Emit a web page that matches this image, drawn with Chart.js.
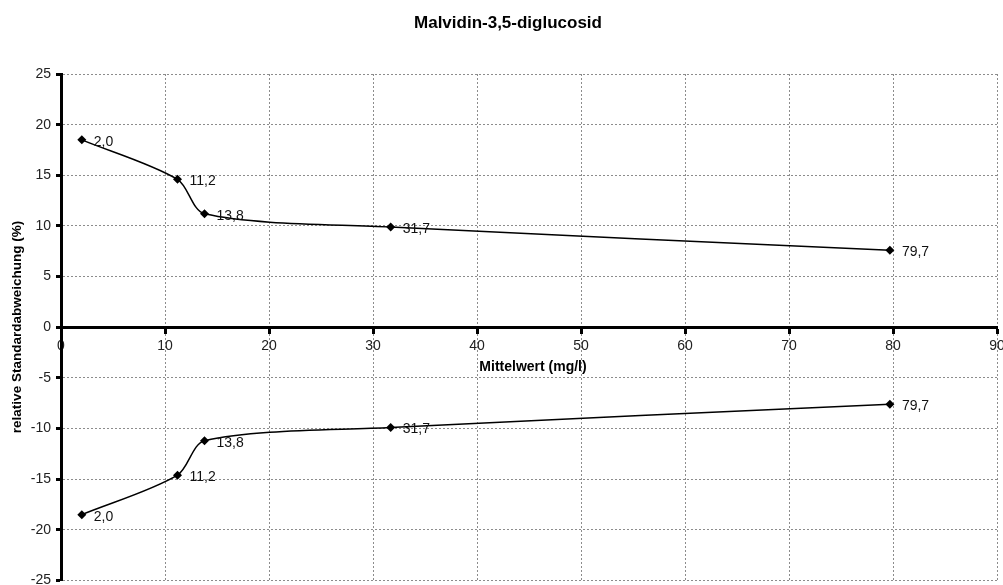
<!DOCTYPE html>
<html>
<head>
<meta charset="utf-8">
<script src="https://cdn.jsdelivr.net/npm/chart.js@4/dist/chart.umd.min.js"></script>
<style>
html,body{margin:0;padding:0;background:#fff;}
#wrap{width:1003px;height:585px;position:relative;}
</style>
</head>
<body>
<div id="wrap"><canvas id="c"></canvas></div>
<script>
const chartTitle = 'Malvidin-3,5-diglucosid';
const xAxisTitle = 'Mittelwert (mg/l)';
const yAxisTitle = 'relative Standardabweichung (%)';
const meanValues = [2.0, 11.2, 13.8, 31.7, 79.7];
const rsdUpper = [18.5, 14.6, 11.2, 9.9, 7.6];
const rsdLower = [-18.5, -14.6, -11.2, -9.9, -7.6];
const xTicks = [0, 10, 20, 30, 40, 50, 60, 70, 80, 90];
const yTicks = [-25, -20, -15, -10, -5, 0, 5, 10, 15, 20, 25];

const FONT = '"Liberation Sans", Arial, sans-serif';

function toPoints(xs, ys){ return xs.map((x,i)=>({x:x, y:ys[i]})); }

const textPlugin = {
  id: 'texts',
  afterDraw(chart){
    const ctx = chart.ctx;
    ctx.save();
    ctx.fillStyle = '#000';
    ctx.font = 'bold 17px ' + FONT;
    ctx.textAlign = 'center';
    ctx.textBaseline = 'middle';
    ctx.fillText(chartTitle, 508, 23);
    ctx.font = 'bold 14px ' + FONT;
    ctx.fillText(xAxisTitle, 533, 367);
    ctx.save();
    ctx.translate(17, 327);
    ctx.rotate(-Math.PI/2);
    ctx.font = 'bold 13.5px ' + FONT;
    ctx.fillText(yAxisTitle, 0, 0);
    ctx.restore();
    ctx.font = '14px ' + FONT;
    ctx.textAlign = 'left';
    ctx.fillStyle = '#111';
    chart.data.datasets.forEach((ds, di) => {
      const meta = chart.getDatasetMeta(di);
      meta.data.forEach((el, i) => {
        const label = meanValues[i].toFixed(1).replace('.', ',');
        ctx.fillText(label, el.x + 12, el.y + 2);
      });
    });
    ctx.restore();
  }
};

const lineDs = (data) => ({
  data: data,
  borderColor: '#000',
  backgroundColor: '#000',
  borderWidth: 1.5,
  pointStyle: 'rectRot',
  pointRadius: 4.5,
  pointBorderWidth: 0,
  pointBackgroundColor: '#000',
  cubicInterpolationMode: 'default',
  tension: 0.3,
  fill: false
});

new Chart(document.getElementById('c'), {
  type: 'line',
  data: {
    datasets: [
      lineDs(toPoints(meanValues, rsdUpper)),
      lineDs(toPoints(meanValues, rsdLower))
    ]
  },
  options: {
    responsive: true,
    maintainAspectRatio: false,
    animation: false,
    events: [],
    layout: { padding: { left: 0, right: 6, top: 74, bottom: 3 } },
    plugins: { legend: { display: false }, tooltip: { enabled: false }, title: { display: false } },
    scales: {
      x: {
        type: 'linear',
        position: { y: 0 },
        min: 0, max: 90,
        afterBuildTicks(scale){ scale.ticks = xTicks.map(v => ({value: v})); },
        afterFit(scale){ scale.paddingLeft = 0; scale.paddingRight = 0; },
        ticks: {
          color: '#222',
          font: { family: FONT, size: 14 },
          padding: 5,
          maxRotation: 0,
          autoSkip: false
        },
        grid: {
          color: '#8c8c8c',
          lineWidth: 1,
          drawTicks: true,
          tickLength: 5,
          tickColor: '#000',
          tickWidth: 3
        },
        border: { display: true, color: '#000', width: 3, dash: [2, 2] }
      },
      y: {
        type: 'linear',
        position: 'left',
        min: -25, max: 25,
        afterBuildTicks(scale){ scale.ticks = yTicks.map(v => ({value: v})); },
        afterFit(scale){ scale.width = 61; scale.paddingTop = 0; scale.paddingBottom = 0; },
        ticks: {
          color: '#222',
          font: { family: FONT, size: 14 },
          padding: 5,
          autoSkip: false
        },
        grid: {
          color: '#8c8c8c',
          lineWidth: 1,
          drawTicks: true,
          tickLength: 5,
          tickColor: '#000',
          tickWidth: 3
        },
        border: { display: true, color: '#000', width: 3, dash: [2, 2] }
      }
    }
  },
  plugins: [textPlugin]
});
</script>
</body>
</html>
